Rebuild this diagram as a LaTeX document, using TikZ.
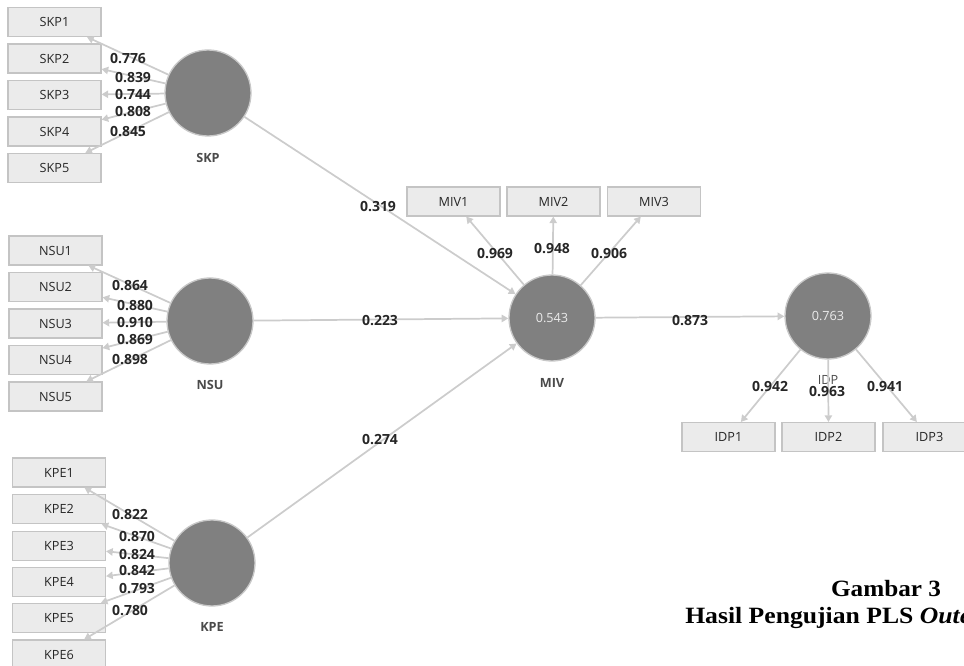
\documentclass[tikz,border=0pt]{standalone}
\usepackage{fontspec}
\setmainfont{Open Sans}
\newfontfamily\capfont{Liberation Serif}
\usetikzlibrary{arrows.meta}
\definecolor{boxfill}{HTML}{EBEBEB}
\definecolor{boxline}{HTML}{C4C4C4}
\definecolor{latfill}{HTML}{808080}
\definecolor{latline}{HTML}{C8C8C8}
\definecolor{linkcol}{HTML}{CCCCCC}
\definecolor{lbltxt}{HTML}{4A4A4A}
\begin{document}
\begin{tikzpicture}[x=0.75pt,y=-0.75pt,
  indicator/.style={draw=boxline,fill=boxfill,line width=0.8pt,minimum width=69.75pt,minimum height=21.75pt,inner sep=0pt,font=\fontsize{9.5}{11}\selectfont,text=black!85},
  latent/.style={circle,draw=latline,fill=latfill,line width=1pt,minimum size=64.5pt,inner sep=0pt,font=\fontsize{9.5}{11}\selectfont,text=white!92!black},
  latname/.style={font=\bfseries\fontsize{9.5}{11}\selectfont,text=lbltxt},
  coef/.style={font=\bfseries\fontsize{10.5}{12}\selectfont,text=black!85,inner sep=0pt},
  link/.style={draw=linkcol,line width=1.3pt,-{Triangle[width=5.5pt,length=5pt]}},
  captext/.style={font=\capfont\bfseries\fontsize{17.5}{21}\selectfont},
]
\useasboundingbox (0,0) rectangle (964,666);

% latent variables
\node[latent] (SKP) at (208,93) {};
\node[latent] (NSU) at (210,321) {};
\node[latent] (KPE) at (212,563) {};
\node[latent] (MIV) at (552,318) {0.543};
\node[latent] (IDP) at (828,316) {0.763};

\node[latname] (SKPn) at (208,158) {SKP};
\node[latname] (NSUn) at (210,385) {NSU};
\node[latname] (KPEn) at (212,627) {KPE};
\node[latname] (MIVn) at (552,383) {MIV};
\node[latname,font=\fontsize{9.5}{11}\selectfont] (IDPn) at (828,380) {IDP};

% indicators
\foreach \i/\y in {1/22,2/58.5,3/95,4/131.5,5/168}
  \node[indicator] (SKP\i) at (54.5,\y) {SKP\i};
\foreach \i/\y in {1/250.5,2/287,3/323.5,4/360,5/396.5}
  \node[indicator] (NSU\i) at (55.5,\y) {NSU\i};
\foreach \i/\y in {1/472.5,2/509,3/546,4/582,5/618,6/654.5}
  \node[indicator] (KPE\i) at (59,\y) {KPE\i};
\foreach \i/\x in {1/453.5,2/553.5,3/654}
  \node[indicator] (MIV\i) at (\x,201.5) {MIV\i};
\foreach \i/\x in {1/728.5,2/828.5,3/929.5}
  \node[indicator] (IDP\i) at (\x,437) {IDP\i};

% outer loadings
\foreach \i in {1,...,5} \draw[link] (SKP) -- (SKP\i);
\foreach \i in {1,...,5} \draw[link] (NSU) -- (NSU\i);
\foreach \i in {1,...,6} \draw[link] (KPE) -- (KPE\i);
\foreach \i in {1,...,3} \draw[link] (MIV) -- (MIV\i);
\foreach \i in {1,...,3} \draw[link] (IDP) -- (IDP\i);

% inner model paths
\draw[link] (SKP) -- (MIV);
\draw[link] (NSU) -- (MIV);
\draw[link] (KPE) -- (MIV);
\draw[link] (MIV) -- (IDP);

% loading values
\node[coef] (l11) at (128,59) {0.776};
\node[coef] (l12) at (133,78) {0.839};
\node[coef] (l13) at (133,95) {0.744};
\node[coef] (l14) at (133,112) {0.808};
\node[coef] (l15) at (128,132) {0.845};

\node[coef] (l21) at (130,286) {0.864};
\node[coef] (l22) at (135,306) {0.880};
\node[coef] (l23) at (135,323) {0.910};
\node[coef] (l24) at (135,340) {0.869};
\node[coef] (l25) at (130,360) {0.898};

\node[coef] (l31) at (130,515) {0.822};
\node[coef] (l32) at (137,537) {0.870};
\node[coef] (l33) at (137,555) {0.824};
\node[coef] (l34) at (137,571) {0.842};
\node[coef] (l35) at (137,589) {0.793};
\node[coef] (l36) at (130,611) {0.780};

\node[coef] (l41) at (495,254) {0.969};
\node[coef] (l42) at (552,249) {0.948};
\node[coef] (l43) at (609,254) {0.906};

\node[coef] (l51) at (770,387) {0.942};
\node[coef] (l52) at (827,392) {0.963};
\node[coef] (l53) at (885,387) {0.941};

% path coefficients
\node[coef] (p1) at (378,207) {0.319};
\node[coef] (p2) at (380,321) {0.223};
\node[coef] (p3) at (380,440) {0.274};
\node[coef] (p4) at (690,321) {0.873};

% caption (widened to the book face's proportions)
\node[captext,anchor=base] (cap1) at (886,596) {\scalebox{1.08}[1]{Gambar 3}};
\node[captext,anchor=base west,inner sep=0pt] (cap2) at (685,623) {\scalebox{1.1}[1]{Hasil Pengujian PLS \textit{Outer Model}}};
\end{tikzpicture}
\end{document}
